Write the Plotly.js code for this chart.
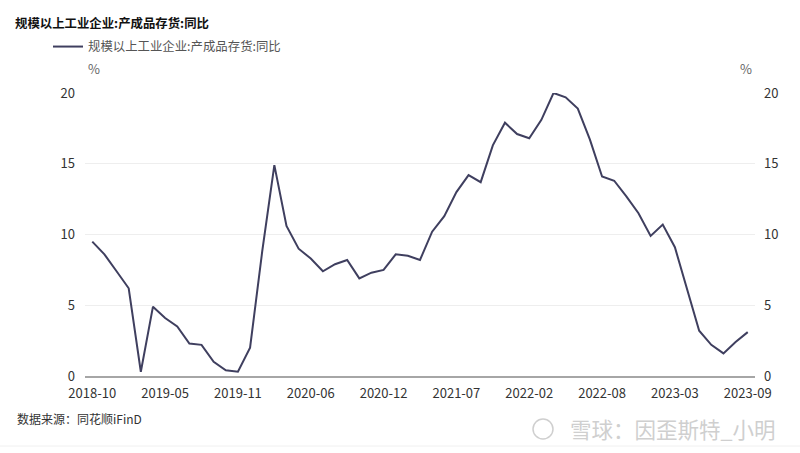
<!DOCTYPE html>
<html>
<head>
<meta charset="utf-8">
<script src="https://cdn.plot.ly/plotly-3.0.1.min.js"></script>
<style>
html,body{margin:0;padding:0;background:#fff;}
#chart{width:800px;height:453px;}
</style>
</head>
<body>
<div id="chart"></div>
<script>
// Monthly periods (January merged into Jan-Feb release, so no -01 months)
const months = [
  "2018-10","2018-11","2018-12",
  "2019-02","2019-03","2019-04","2019-05","2019-06","2019-07","2019-08","2019-09","2019-10","2019-11","2019-12",
  "2020-02","2020-03","2020-04","2020-05","2020-06","2020-07","2020-08","2020-09","2020-10","2020-11","2020-12",
  "2021-02","2021-03","2021-04","2021-05","2021-06","2021-07","2021-08","2021-09","2021-10","2021-11","2021-12",
  "2022-02","2022-03","2022-04","2022-05","2022-06","2022-07","2022-08","2022-09","2022-10","2022-11","2022-12",
  "2023-02","2023-03","2023-04","2023-05","2023-06","2023-07","2023-08","2023-09"
];
// 规模以上工业企业:产成品存货:同比 (%)
const yoy = [
  9.5, 8.6, 7.4,
  6.2, 0.3, 4.9, 4.1, 3.5, 2.3, 2.2, 1.0, 0.4, 0.3, 2.0,
  8.8, 14.9, 10.6, 9.0, 8.3, 7.4, 7.9, 8.2, 6.9, 7.3, 7.5,
  8.6, 8.5, 8.2, 10.2, 11.3, 13.0, 14.2, 13.7, 16.3, 17.9, 17.1,
  16.8, 18.1, 20.0, 19.7, 18.9, 16.7, 14.1, 13.8, 12.7, 11.5, 9.9,
  10.7, 9.1, 6.1, 3.2, 2.2, 1.6, 2.4, 3.1
];
const tickLabels = ["2018-10","2019-05","2019-11","2020-06","2020-12","2021-07","2022-02","2022-08","2023-03","2023-09"];
const yTicks = [0, 5, 10, 15, 20];
const seriesName = "规模以上工业企业:产成品存货:同比";

const FONT = "'Noto Sans CJK SC', 'Noto Sans', sans-serif";

const traces = [
  {
    x: months, y: yoy, type: "scatter", mode: "lines", name: seriesName,
    line: {color: "#3f3f5f", width: 2}, xaxis: "x", yaxis: "y"
  },
  {
    x: months, y: yoy, type: "scatter", mode: "lines", name: seriesName,
    line: {color: "rgba(0,0,0,0)", width: 0}, xaxis: "x", yaxis: "y2",
    showlegend: false, hoverinfo: "skip"
  }
];

const layout = {
  width: 800, height: 453,
  margin: {l: 85, r: 45, t: 93, b: 77},
  paper_bgcolor: "#fff", plot_bgcolor: "#fff",
  font: {family: FONT, size: 13, color: "#333"},
  title: {
    text: "<b>" + seriesName + "</b>",
    font: {family: FONT, size: 12.4, color: "#111"},
    x: 15/800, xref: "container", xanchor: "left",
    y: 1 - 24/453, yref: "container", yanchor: "middle"
  },
  showlegend: true,
  legend: {
    orientation: "h", x: (48 - 85)/670, xanchor: "left",
    y: 1 + (93 - 47)/283, yanchor: "middle",
    font: {family: FONT, size: 12.4, color: "#555"},
    bgcolor: "rgba(0,0,0,0)"
  },
  xaxis: {
    type: "category",
    range: [-0.6, months.length - 0.4],
    tickmode: "array", tickvals: tickLabels, ticktext: tickLabels,
    showgrid: false, zeroline: false,
    showline: true, linecolor: "#a6a6a6", linewidth: 2,
    ticks: "", tickfont: {family: FONT, size: 13, color: "#333"},
    ticklabelstandoff: 4
  },
  yaxis: {
    range: [0, 20], tickvals: yTicks, ticks: "",
    showgrid: true, gridcolor: "#eeeeee", gridwidth: 1,
    zeroline: false, showline: false,
    tickfont: {family: FONT, size: 13, color: "#333"},
    ticklabelstandoff: 9
  },
  yaxis2: {
    overlaying: "y", side: "right",
    range: [0, 20], tickvals: yTicks, ticks: "",
    showgrid: false, zeroline: false, showline: false,
    tickfont: {family: FONT, size: 13, color: "#333"},
    ticklabelstandoff: 8
  },
  shapes: [
    {type: "circle", xref: "paper", yref: "paper",
     x0: (533 - 85)/670, x1: (553 - 85)/670,
     y0: -(439 - 376)/283, y1: -(419 - 376)/283,
     line: {color: "#cfcfcf", width: 1.5}},
    {type: "line", xref: "paper", yref: "paper",
     x0: -85/670, x1: 715/670, y0: -(446 - 376)/283, y1: -(446 - 376)/283,
     line: {color: "#f0f0f0", width: 1}}
  ],
  annotations: [
    {text: "%", xref: "paper", yref: "paper", x: 0.001, y: 1 + (93 - 68)/283,
     xanchor: "left", yanchor: "middle", showarrow: false,
     font: {family: FONT, size: 13, color: "#666"}},
    {text: "%", xref: "paper", yref: "paper", x: (754 - 85)/670, y: 1 + (93 - 68)/283,
     xanchor: "right", yanchor: "middle", showarrow: false,
     font: {family: FONT, size: 13, color: "#666"}},
    {text: "数据来源：同花顺iFinD", xref: "paper", yref: "paper",
     x: (15 - 85)/670, y: -(418 - 376)/283,
     xanchor: "left", yanchor: "middle", showarrow: false,
     font: {family: FONT, size: 12, color: "#333"}},
    {text: "雪球：因歪斯特_小明", xref: "paper", yref: "paper",
     x: (778 - 85)/670, y: -(428 - 376)/283,
     xanchor: "right", yanchor: "middle", showarrow: false,
     font: {family: FONT, size: 21.5, color: "#cfcfcf"}}
  ]
};

Plotly.newPlot("chart", traces, layout, {displayModeBar: false, staticPlot: true});
</script>
</body>
</html>
